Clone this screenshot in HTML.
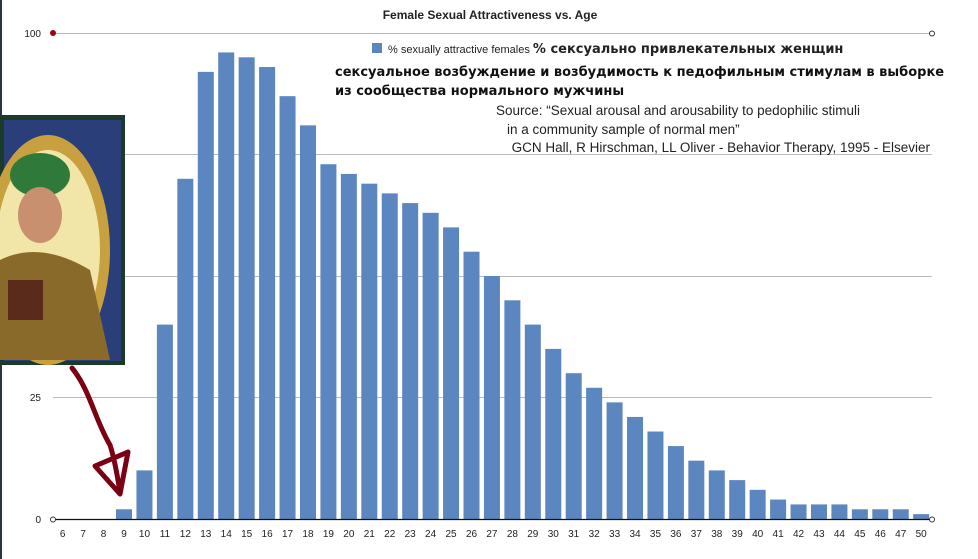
<!DOCTYPE html>
<html><head><meta charset="utf-8"><style>
body{margin:0;background:#fff;}
svg{display:block;font-family:"Liberation Sans",sans-serif;}
</style></head><body>
<svg width="978" height="559" xmlns="http://www.w3.org/2000/svg">
<rect x="0" y="0" width="978" height="559" fill="#fff"/>
<rect x="0" y="0" width="2" height="559" fill="#2b3440"/>
<text x="490" y="19" text-anchor="middle" font-size="12" font-weight="bold" fill="#222">Female Sexual Attractiveness vs. Age</text>
<g stroke="#bbb" stroke-width="1">
<line x1="53" y1="33.5" x2="930" y2="33.5"/>
<line x1="53" y1="154.5" x2="932" y2="154.5"/>
<line x1="53" y1="276.5" x2="932" y2="276.5"/>
<line x1="53" y1="397.5" x2="932" y2="397.5"/>
</g>
<circle cx="932" cy="33.5" r="2.5" fill="#fff" stroke="#333"/>
<g font-size="10" fill="#222" text-anchor="end">
<text x="41" y="37">100</text><text x="41" y="401">25</text><text x="41" y="523">0</text>
</g>
<g id="bars" fill="#5b86bf"></g>
<line x1="53" y1="519.5" x2="932" y2="519.5" stroke="#111" stroke-width="1.2"/>
<circle cx="53" cy="519.5" r="2.5" fill="#fff" stroke="#333"/>
<circle cx="932" cy="519.5" r="2.5" fill="#fff" stroke="#333"/>
<circle cx="53" cy="33" r="3" fill="#a00010"/>
<g id="labels" font-size="10" fill="#222" text-anchor="middle"></g>
<rect x="372" y="43" width="10" height="10" fill="#5b86bf"/>
<text x="388" y="53" font-size="11" fill="#222">% sexually attractive females <tspan font-family="DejaVu Sans" font-weight="bold" font-size="13">% сексуально привлекательных женщин</tspan></text>
<text x="335" y="76" font-size="13" font-weight="bold" font-family="DejaVu Sans" fill="#111">сексуальное возбуждение и возбудимость к педофильным стимулам в выборке</text>
<text x="335" y="95" font-size="13" font-weight="bold" font-family="DejaVu Sans" fill="#111">из сообщества нормального мужчины</text>
<g font-size="13.5" fill="#222">
<text x="496" y="115">Source: “Sexual arousal and arousability to pedophilic stimuli</text>
<text x="507" y="134">in a community sample of normal men”</text>
<text x="930" y="152" text-anchor="end">GCN Hall, R Hirschman, LL Oliver - Behavior Therapy, 1995 - Elsevier</text>
</g>
<rect x="0" y="115" width="125" height="250" fill="#1c3a2a"/>
<rect x="4" y="120" width="117" height="241" fill="#2a3f7a"/>
<ellipse cx="48" cy="250" rx="62" ry="115" fill="#c9a040"/>
<ellipse cx="48" cy="250" rx="52" ry="100" fill="#f1e6a8"/>
<ellipse cx="40" cy="175" rx="30" ry="22" fill="#2f7a3a"/>
<ellipse cx="40" cy="215" rx="22" ry="28" fill="#c99070"/>
<path d="M0 260 Q40 240 90 270 L110 360 L0 360Z" fill="#8a6a2a"/>
<rect x="8" y="280" width="35" height="40" fill="#5a2a1a"/>
<path d="M72 368 C90 390 95 420 110 445 C115 460 118 480 120 492 M95 466 L128 452 L120 494 Z" stroke="#7a0012" stroke-width="5" fill="none" stroke-linejoin="round" stroke-linecap="round"/>
</svg>
<script>
const v={6:0,7:0,8:0,9:2,10:10,11:40,12:70,13:92,14:96,15:95,16:93,17:87,18:81,19:73,20:71,21:69,22:67,23:65,24:63,25:60,26:55,27:50,28:45,29:40,30:35,31:30,32:27,33:24,34:21,35:18,36:15,37:12,38:10,39:8,40:6,41:4,42:3,43:3,44:3,45:2,46:2,47:2,50:1};
const ages=[];for(let a=6;a<=47;a++)ages.push(a);ages.push(50);
let b='',l='';
ages.forEach((a,i)=>{const x=54.7+i*20.44;const h=v[a]*4.86;
if(h>0)b+=`<rect x="${x}" y="${519-h}" width="16" height="${h}"/>`;
l+=`<text x="${x+8}" y="537">${a}</text>`;});
document.getElementById('bars').innerHTML=b;document.getElementById('labels').innerHTML=l;
</script>
</body></html>
